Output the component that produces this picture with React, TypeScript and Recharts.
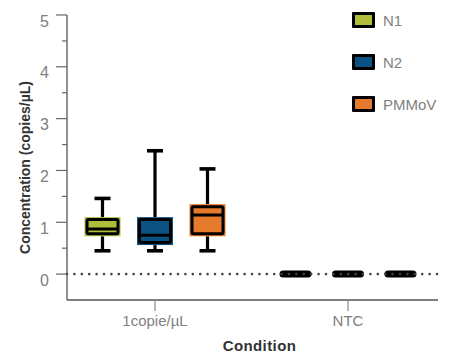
import React from 'react';
import { ComposedChart, Bar, XAxis, YAxis, ReferenceLine, Label } from 'recharts';

// box stats per category: [min, q1, median, q3, max]
const categories = ['1copie/µL', 'NTC'];
const n1Stats = [
  [0.45, 0.73, 0.87, 1.1, 1.46],
  [0, 0, 0, 0, 0],
];
const n2Stats = [
  [0.45, 0.56, 0.75, 1.1, 2.38],
  [0, 0, 0, 0, 0],
];
const pmmovStats = [
  [0.45, 0.73, 1.14, 1.35, 2.03],
  [0, 0, 0, 0, 0],
];
const yTicks = [0, 0.5, 1, 1.5, 2, 2.5, 3, 3.5, 4, 4.5, 5];

const series = [
  { key: 'N1', color: '#afbd3a' },
  { key: 'N2', color: '#0b5283' },
  { key: 'PMMoV', color: '#e5792c' },
];

const rows = categories.map((c, i) => ({
  category: c,
  N1: n1Stats[i],
  N2: n2Stats[i],
  PMMoV: pmmovStats[i],
}));

const FONT = '"Liberation Sans", Arial, Helvetica, sans-serif';

function BoxShape(props: any) {
  const { x, y, width, height, payload, color, seriesKey } = props;
  const [min, q1, med, q3, max] = payload[seriesKey];
  if (!height || height < 1 || max === min) {
    return <rect x={x + 2} y={y - 3.5} width={width - 4} height={7} rx={3.5} fill="#000" />;
  }
  const py = (v: number) => y + (height * (max - v)) / (max - min);
  const cx = x + width / 2;
  const top = py(q3);
  const bot = py(q1);
  return (
    <g>
      <line x1={cx} x2={cx} y1={py(max)} y2={top} stroke="#000" strokeWidth={3.2} />
      <line x1={cx} x2={cx} y1={bot} y2={py(min)} stroke="#000" strokeWidth={3.2} />
      <line x1={cx - 8} x2={cx + 8} y1={py(max)} y2={py(max)} stroke="#000" strokeWidth={3.6} />
      <line x1={cx - 8} x2={cx + 8} y1={py(min)} y2={py(min)} stroke="#000" strokeWidth={3.6} />
      <rect x={x} y={top} width={width} height={bot - top} fill={color} />
      <rect
        x={x + 2.5}
        y={top + 2.5}
        width={width - 5}
        height={bot - top - 5}
        fill="none"
        stroke="#000"
        strokeWidth={3}
        rx={1.5}
      />
      <line x1={x + 2.5} x2={x + width - 2.5} y1={py(med)} y2={py(med)} stroke="#000" strokeWidth={3} />
    </g>
  );
}

function YTick(props: any) {
  const { x, y, payload } = props;
  const major = Number.isInteger(payload.value);
  return (
    <g>
      <line x1={x - (major ? 11 : 5)} x2={x} y1={y} y2={y} stroke="#666" strokeWidth={1.2} />
      {major && (
        <text x={x - 18} y={y + 11.5} textAnchor="end" fill="#808080" fontSize={16} fontFamily={FONT}>
          {payload.value}
        </text>
      )}
    </g>
  );
}

function LegendBox() {
  return (
    <div style={{ position: 'absolute', left: 352, top: -1, fontFamily: FONT }}>
      {series.map((s) => (
        <div key={s.key} style={{ display: 'flex', alignItems: 'center', height: 42 }}>
          <div
            style={{
              width: 17,
              height: 10,
              border: '3px solid #000',
              background: s.color,
              borderRadius: 1,
              marginRight: 8,
            }}
          />
          <span style={{ color: '#808080', fontSize: 15 }}>{s.key}</span>
        </div>
      ))}
    </div>
  );
}

export default function App() {
  return (
    <div style={{ width: 450, height: 353, position: 'relative' }}>
      <style>{`body{margin:0}`}</style>
      <ComposedChart
        width={450}
        height={353}
        data={rows}
        margin={{ top: 15, right: 12, left: 0, bottom: 0 }}
        barSize={36}
        barGap={16.5}
      >
        <YAxis
          width={67}
          type="number"
          domain={[-0.5, 5]}
          ticks={yTicks}
          interval={0}
          tickLine={false}
          tickSize={0}
          tickMargin={0}
          tick={<YTick />}
          axisLine={{ stroke: '#555', strokeWidth: 1.3 }}
        >
          <Label
            content={({ viewBox }: any) => (
              <text
                x={viewBox.x + 25}
                y={viewBox.y + viewBox.height / 2 + 10}
                transform={`rotate(-90 ${viewBox.x + 25} ${viewBox.y + viewBox.height / 2 + 10})`}
                textAnchor="middle"
                dominantBaseline="central"
                fill="#333"
                fontSize={14}
                fontWeight={700}
                fontFamily={FONT}
              >
                Concentration (copies/µL)
              </text>
            )}
          />
        </YAxis>
        <XAxis
          dataKey="category"
          height={53}
          padding={{ left: -8.5, right: -6.5 }}
          axisLine={{ stroke: '#555', strokeWidth: 1.3 }}
          tickLine={{ stroke: '#888', strokeWidth: 1.2 }}
          tickSize={11}
          tickMargin={4}
          tick={{ fill: '#808080', fontSize: 15, fontFamily: FONT }}
        >
          <Label
            content={({ viewBox }: any) => (
              <text
                x={viewBox.x + viewBox.width / 2 + 7}
                y={viewBox.y + 51}
                textAnchor="middle"
                fill="#333"
                fontSize={15}
                fontWeight={700}
                letterSpacing={0.4}
                fontFamily={FONT}
              >
                Condition
              </text>
            )}
          />
        </XAxis>
        <ReferenceLine
          y={0}
          stroke="#444"
          strokeWidth={2.6}
          strokeDasharray="0 7.4"
          strokeLinecap="round"
        />
        {series.map((s) => (
          <Bar
            key={s.key}
            name={s.key}
            dataKey={(row: any) => [row[s.key][0], row[s.key][4]]}
            fill={s.color}
            isAnimationActive={false}
            shape={(p: any) => <BoxShape {...p} color={s.color} seriesKey={s.key} />}
          />
        ))}
      </ComposedChart>
      <LegendBox />
    </div>
  );
}
